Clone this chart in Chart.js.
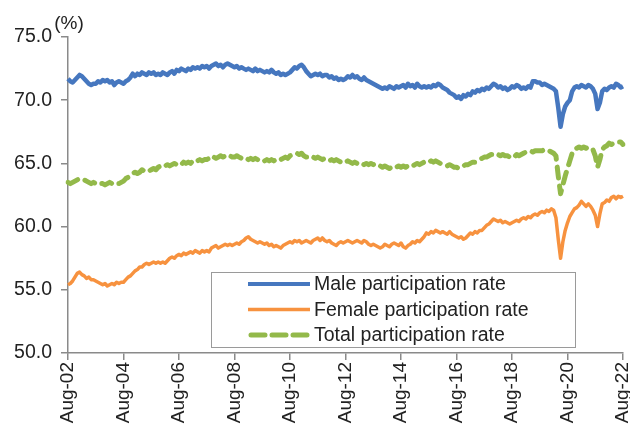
<!DOCTYPE html>
<html>
<head>
<meta charset="utf-8">
<script src="https://cdn.jsdelivr.net/npm/chart.js@4"></script>
<style>
  body { margin: 0; background: #fff; }
  #wrap { width: 630px; height: 430px; }
</style>
</head>
<body>
<div id="wrap"><canvas id="rateChart"></canvas></div>
<script>
// Monthly series, Aug-02 .. Aug-22 (one row = Aug..Jul)
const maleRate = [
  71.7, 71.5, 71.4, 71.6, 71.8, 72.0, 71.9, 71.7, 71.5, 71.3, 71.2, 71.3,
  71.3, 71.5, 71.4, 71.6, 71.5, 71.6, 71.4, 71.5, 71.2, 71.4, 71.5, 71.4,
  71.3, 71.5, 71.6, 71.8, 72.1, 71.9, 72.1, 72.0, 72.2, 72.1, 72.0, 72.2,
  72.1, 72.2, 72.0, 72.1, 72.0, 72.2, 72.1, 72.0, 72.2, 72.3, 72.1, 72.4,
  72.3, 72.5, 72.4, 72.3, 72.5, 72.4, 72.6, 72.5, 72.6, 72.5, 72.7, 72.6,
  72.7, 72.5, 72.7, 72.8, 72.9, 72.7, 72.8, 72.6, 72.8, 72.9, 72.8, 72.7,
  72.6, 72.7, 72.5, 72.6, 72.5, 72.4, 72.5, 72.4, 72.3, 72.5, 72.3, 72.4,
  72.3, 72.2, 72.3, 72.2, 72.4, 72.2, 72.1, 72.2, 72.0, 72.1, 72.0, 72.1,
  72.2, 72.4, 72.6, 72.5, 72.7, 72.8, 72.6, 72.3, 72.1, 71.9, 72.0, 72.1,
  72.0, 72.1, 71.9, 72.0, 72.0, 71.8, 71.9, 71.7, 71.8, 71.6, 71.7, 71.6,
  71.7, 71.9, 71.8, 72.0, 71.8, 71.9, 71.7, 71.6, 71.8, 71.6, 71.5, 71.4,
  71.3, 71.2, 71.1, 71.0, 70.9, 71.0, 70.9, 71.1, 71.0, 70.9, 71.1, 71.0,
  71.1, 71.2, 71.0, 71.3, 71.1, 71.2, 71.0, 71.3, 71.1, 71.0, 71.1, 71.0,
  71.1, 71.0, 71.2, 71.1, 71.3, 71.2, 71.0, 70.9, 70.8, 70.6, 70.5, 70.4,
  70.2, 70.3, 70.1, 70.4, 70.3, 70.5, 70.4, 70.7, 70.6, 70.8, 70.7, 70.9,
  70.8, 71.0, 70.9, 71.1, 71.3, 71.2, 71.0, 71.1, 70.9, 71.0, 70.8, 70.9,
  71.1, 71.0, 71.2, 71.1, 70.9, 71.0, 70.9, 71.1, 71.0, 71.5, 71.5, 71.4,
  71.4, 71.2, 71.3, 71.2, 71.1, 71.0, 70.9, 70.7, 69.4, 67.9, 68.9, 69.5,
  69.8, 70.0, 70.7, 71.0, 71.1, 71.0, 71.2, 71.1, 71.0, 71.2, 71.1, 70.9,
  70.5, 69.3, 69.8, 70.7, 70.9, 70.8, 71.0, 71.1, 71.0, 71.3, 71.2, 71.0,
  71.1
];
const femaleRate = [
  55.4, 55.5, 55.7, 56.0, 56.3, 56.4, 56.2, 56.1, 55.9, 56.0, 55.8, 55.8,
  55.7, 55.6, 55.5, 55.4, 55.5, 55.3, 55.4, 55.5, 55.4, 55.6, 55.5, 55.6,
  55.6, 55.8, 56.0, 56.1, 56.3, 56.5, 56.6, 56.8, 56.8, 57.0, 57.1, 57.0,
  57.1, 57.2, 57.1, 57.2, 57.1, 57.2, 57.1, 57.3, 57.5, 57.6, 57.5, 57.7,
  57.8, 57.7, 57.9, 57.8, 57.9, 58.0, 57.9, 58.1, 58.0, 57.9, 58.1, 58.0,
  58.1, 58.0, 58.3, 58.4, 58.5, 58.3, 58.4, 58.5, 58.6, 58.5, 58.6, 58.5,
  58.6, 58.7, 58.6, 58.8, 58.9, 59.1, 59.2, 59.0, 58.9, 58.8, 58.7, 58.8,
  58.7, 58.6, 58.7, 58.5, 58.6, 58.4, 58.5, 58.4, 58.3, 58.5, 58.6, 58.7,
  58.8, 58.7, 58.9, 58.8, 58.9, 58.7, 58.8, 58.9, 58.8, 58.7, 58.9, 59.0,
  59.1, 58.9, 59.1, 58.9, 58.8, 58.9, 58.7, 58.6, 58.5, 58.7, 58.8, 58.7,
  58.8, 58.9, 58.8, 58.7, 58.8, 58.9, 58.8, 58.7, 58.9, 58.8, 58.6, 58.5,
  58.6, 58.5, 58.4, 58.3, 58.4, 58.6, 58.5, 58.4, 58.6, 58.7, 58.6, 58.5,
  58.7, 58.4, 58.3, 58.5, 58.6, 58.8, 58.7, 58.9, 58.8, 59.0, 59.2, 59.5,
  59.4, 59.6, 59.5, 59.7, 59.6, 59.5, 59.6, 59.5, 59.4, 59.6, 59.4, 59.3,
  59.2, 59.1, 59.2, 59.0, 59.1, 59.3, 59.5, 59.4, 59.6, 59.5, 59.7, 59.7,
  59.9, 60.1, 60.2, 60.4, 60.6, 60.5, 60.4, 60.5, 60.3, 60.4, 60.3, 60.2,
  60.3, 60.4, 60.5, 60.4, 60.6, 60.7, 60.6, 60.8, 60.7, 60.9, 61.0, 60.9,
  61.1, 61.2, 61.1, 61.3, 61.2, 61.4, 61.3, 60.7, 59.0, 57.5, 58.8, 59.7,
  60.3, 60.8, 61.1, 61.4, 61.5, 61.7, 62.0, 61.8, 61.6, 61.8, 61.6, 61.3,
  60.9, 60.0, 61.0, 61.8, 61.9, 62.1, 62.0, 62.3, 62.4, 62.2, 62.4, 62.3,
  62.4
];
const totalRate = [
  63.5, 63.4, 63.5, 63.6, 63.7, 63.8, 63.8, 63.7, 63.6, 63.5, 63.4, 63.5,
  63.4, 63.5, 63.4, 63.4, 63.3, 63.4, 63.5, 63.4, 63.3, 63.4, 63.4, 63.5,
  63.6, 63.8, 63.9, 64.1, 64.2, 64.3, 64.2, 64.3, 64.5, 64.4, 64.5, 64.4,
  64.5, 64.6, 64.5, 64.7, 64.8, 64.7, 64.8, 64.9, 64.8, 64.9, 65.0, 64.9,
  65.0, 64.9, 65.1, 65.0, 65.1, 65.0, 65.2, 65.1, 65.2, 65.3, 65.2, 65.3,
  65.3, 65.4, 65.3, 65.5, 65.4, 65.5, 65.6, 65.5, 65.6, 65.5, 65.6, 65.5,
  65.5, 65.6, 65.5, 65.4, 65.5, 65.4, 65.3, 65.4, 65.3, 65.4, 65.3, 65.2,
  65.3, 65.2, 65.3, 65.2, 65.3, 65.2, 65.3, 65.2, 65.3, 65.4, 65.5, 65.4,
  65.6, 65.7, 65.8, 65.8, 65.7, 65.8, 65.6, 65.5, 65.5, 65.6, 65.5, 65.4,
  65.5, 65.4, 65.3, 65.4, 65.3, 65.2, 65.3, 65.2, 65.3, 65.2, 65.1, 65.2,
  65.1, 65.2, 65.1, 65.0, 65.1, 65.0, 65.1, 65.0, 64.9, 65.0, 64.9, 65.0,
  64.9, 65.0, 64.9, 64.8, 64.7, 64.8, 64.7, 64.6, 64.7, 64.6, 64.7, 64.8,
  64.7, 64.8, 64.7, 64.8, 64.9, 64.8, 64.9, 65.0, 64.9, 65.0, 65.1, 65.0,
  65.1, 65.2, 65.1, 65.2, 65.1, 65.0, 64.9, 64.9, 64.8, 64.9, 64.8, 64.7,
  64.7, 64.6, 64.7, 64.8, 64.9, 64.9, 65.0, 65.1, 65.1, 65.2, 65.3, 65.4,
  65.5, 65.5, 65.6, 65.7, 65.7, 65.8, 65.7, 65.6, 65.7, 65.6, 65.6, 65.5,
  65.6, 65.5, 65.7, 65.6, 65.7, 65.8, 65.9, 65.9, 66.0, 65.9, 66.0, 66.0,
  66.0, 66.0, 66.1, 66.0, 66.0, 65.9, 65.8, 65.6, 64.0, 62.6, 63.3, 64.0,
  64.6, 65.2, 65.8, 66.1, 66.2, 66.3, 66.2, 66.3, 66.2, 66.3, 66.2, 66.1,
  65.6, 64.7, 65.3, 66.1, 66.3, 66.4, 66.6, 66.5, 66.6, 66.6, 66.7, 66.7,
  66.5
];
const seriesNames = ['Male participation rate', 'Female participation rate', 'Total participation rate'];
const yTicks = [50, 55, 60, 65, 70, 75];

// month labels Aug-02 .. Aug-22
const monthNames = ['Jan', 'Feb', 'Mar', 'Apr', 'May', 'Jun', 'Jul', 'Aug', 'Sep', 'Oct', 'Nov', 'Dec'];
const labels = maleRate.map((_, i) => {
    const m = (7 + i) % 12;
    const yy = 2 + Math.floor((7 + i) / 12);
    return monthNames[m] + '-' + String(yy).padStart(2, '0');
});

const BLUE = '#4677bf';
const ORANGE = '#f7923f';
const GREEN = '#93b94a';
const AXIS = '#8a8a8a';
const FONT = "'Liberation Sans', Arial, sans-serif";

// Boxed legend inside the plot + "(%)" unit label
const boxLegend = {
    id: 'boxLegend',
    afterDraw(chart) {
        const ctx = chart.ctx;
        ctx.save();
        ctx.font = `19px ${FONT}`;
        ctx.fillStyle = '#222';
        ctx.textAlign = 'center';
        ctx.textBaseline = 'alphabetic';
        ctx.fillText('(%)', 69, 29);

        ctx.fillStyle = '#fff';
        ctx.fillRect(211, 272, 364, 75);
        ctx.strokeStyle = '#9a9a9a';
        ctx.lineWidth = 1;
        ctx.strokeRect(211.5, 272.5, 364, 75);

        const styles = [
            { color: BLUE, width: 4, dash: [] },
            { color: ORANGE, width: 3.5, dash: [] },
            { color: GREEN, width: 5, dash: [14, 7] }
        ];
        seriesNames.forEach((name, i) => {
            const y = 284 + i * 25.5;
            const s = styles[i];
            ctx.beginPath();
            ctx.setLineDash(s.dash);
            ctx.lineCap = s.dash.length ? 'round' : 'butt';
            ctx.strokeStyle = s.color;
            ctx.lineWidth = s.width;
            ctx.moveTo(s.dash.length ? 251 : 248, y);
            ctx.lineTo(310, y);
            ctx.stroke();
            ctx.setLineDash([]);
            ctx.fillStyle = '#222';
            ctx.textAlign = 'left';
            ctx.textBaseline = 'middle';
            ctx.font = `19.5px ${FONT}`;
            ctx.fillText(name, 314, y + 1);
        });
        ctx.restore();
    }
};

const ctx = document.getElementById('rateChart').getContext('2d');
new Chart(ctx, {
    type: 'line',
    data: {
        labels: labels,
        datasets: [
            { label: seriesNames[0], data: maleRate, borderColor: BLUE, borderWidth: 4.5 },
            { label: seriesNames[1], data: femaleRate, borderColor: ORANGE, borderWidth: 3.5 },
            { label: seriesNames[2], data: totalRate, borderColor: GREEN, borderWidth: 5,
              borderDash: [11, 8], borderCapStyle: 'round' }
        ]
    },
    options: {
        responsive: true,
        maintainAspectRatio: false,
        animation: false,
        layout: { padding: { top: 37, right: 7, left: 0, bottom: 0 } },
        elements: { point: { radius: 0 }, line: { tension: 0, borderJoinStyle: 'round' } },
        plugins: {
            legend: { display: false },
            tooltip: { enabled: false }
        },
        scales: {
            x: {
                grid: { display: true, drawOnChartArea: false, drawTicks: true, tickLength: 7, color: AXIS, lineWidth: 1.5 },
                border: { color: AXIS, width: 1.5 },
                ticks: {
                    autoSkip: false,
                    maxRotation: 90,
                    minRotation: 90,
                    padding: 2,
                    color: '#222',
                    font: { family: FONT, size: 19 },
                    callback: function (val, idx) {
                        return idx % 24 === 0 ? this.getLabelForValue(val) : null;
                    }
                },
                afterFit(scale) {
                    scale.height = 77;
                    scale.paddingLeft = 0;
                    scale.paddingRight = 0;
                }
            },
            y: {
                min: 50,
                max: 75,
                afterBuildTicks(scale) { scale.ticks = yTicks.map(v => ({ value: v })); },
                grid: { display: true, drawOnChartArea: false, drawTicks: true, tickLength: 7, color: AXIS, lineWidth: 1.5 },
                border: { color: AXIS, width: 1.5 },
                ticks: {
                    padding: 9,
                    color: '#222',
                    font: { family: FONT, size: 19.5 },
                    callback: v => v.toFixed(1)
                },
                afterFit(scale) { scale.width = 68; }
            }
        }
    },
    plugins: [boxLegend]
});
</script>
</body>
</html>
